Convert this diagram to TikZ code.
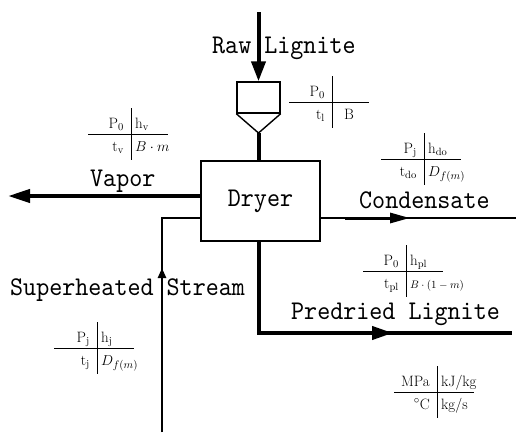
\documentclass[tikz,border=0pt]{standalone}
\usepackage{fontspec}
\newfontfamily\flowfont[FakeStretch=0.92]{lmmono10-regular.otf}
\usetikzlibrary{arrows.meta,calc}

\begin{document}
\begin{tikzpicture}[x=1pt,y=-1pt,
  flow/.style={draw=black,line width=4pt},
  pipe/.style={draw=black,line width=2.4pt},
  line/.style={draw=black,line width=1.4pt},
  cross/.style={draw=black,line width=1pt},
  label/.style={font=\flowfont\fontsize{27}{30}\selectfont,inner sep=0pt,anchor=base west},
  unitbox/.style={line,font=\flowfont\fontsize{27}{30}\selectfont,inner sep=0pt},
  entry/.style={font=\fontsize{15}{17}\selectfont,inner sep=0pt},
]
\useasboundingbox (0,0) rectangle (516,432);
% hopper and dryer
\node[unitbox,minimum width=43pt,minimum height=31pt] (hopper) at (258.5,97.5) {};
\coordinate (tip) at (258.5,133);
\draw[line] (hopper.south west) -- (tip) -- (hopper.south east);
\node[unitbox,minimum width=119pt,minimum height=80pt] (dryer) at (260.5,201) {Dryer};
\draw[flow] (tip) -- (tip |- dryer.north);
% raw lignite in
\coordinate (rawin) at (258.5,12);
\draw[flow,-{Triangle[length=20pt,width=14pt]}] (rawin) -- (hopper.north);
\node[label] (rawlab) at (212,53) {Raw Lignite};
% vapor out
\coordinate (vapout) at (8,196);
\draw[flow,-{Triangle[length=22pt,width=13pt]}] (dryer.west |- vapout) -- (vapout);
\node[label] (vaplab) at (90,186) {Vapor};
% superheated stream in
\coordinate (steamin) at (162,432);
\coordinate (steamturn) at (162,218);
\coordinate (steamhead) at (162,268);
\draw[pipe] (steamin) -- (steamturn) -- (dryer.west |- steamturn);
\draw[pipe,-{Triangle[length=10pt,width=8pt]}] (steamin) -- (steamhead);
\node[label] (steamlab) at (10,295) {Superheated Stream};
% condensate out
\coordinate (condout) at (516,218);
\coordinate (condtail) at (345,218);
\coordinate (condhead) at (410,218);
\draw[pipe,line width=2pt] (dryer.east |- condout) -- (condout);
\draw[pipe,line width=3pt,-{Triangle[length=20pt,width=10pt]}] (condtail) -- (condhead);
\node[label] (condlab) at (359,208) {Condensate};
% predried lignite out
\coordinate (pdturn) at (258.5,333);
\coordinate (pdhead) at (393,333);
\coordinate (pdout) at (512,333);
\draw[flow,line join=miter] (tip |- dryer.south) -- (pdturn) -- (pdout);
\draw[flow,-{Triangle[length=21pt,width=13pt]}] (pdturn) -- (pdhead);
\node[label] (pdlab) at (291,319) {Predried Lignite};
% state crosses
\foreach \cx/\cy/\tag/\ptl/\ptr/\pbl/\pbr in {
  332/102/hop/{$\mathrm{P_0}$}/{}/{$\mathrm{t_l}$}/{\hspace{8pt}$\mathrm{B}$},
  131/134/vap/{$\mathrm{P_0}$}/{$\mathrm{h_v}$}/{$\mathrm{t_v}$}/{$B\cdot m$},
  424/159/con/{$\mathrm{P_j}$}/{$\mathrm{h_{do}}$}/{$\mathrm{t_{do}}$}/{$D_{f(m)}$},
  406/271/pre/{$\mathrm{P_0}$}/{$\mathrm{h_{pl}}$}/{$\mathrm{t_{pl}}$}/{\fontsize{11}{12}\selectfont$B\cdot(1-m)$},
  97/348/sup/{$\mathrm{P_j}$}/{$\mathrm{h_j}$}/{$\mathrm{t_j}$}/{$D_{f(m)}$},
  437/392/uni/{MPa}/{kJ/kg}/{$^\circ$C}/{kg/s}}{
  \draw[cross] (\cx-43,\cy) -- (\cx+37,\cy);
  \draw[cross] (\cx,\cy-26) -- (\cx,\cy+26);
  \node[entry,anchor=base east] (\tag-tl) at (\cx-7,\cy-6) {\ptl};
  \node[entry,anchor=base west] (\tag-tr) at (\cx+4,\cy-6) {\ptr};
  \node[entry,anchor=base east] (\tag-bl) at (\cx-7,\cy+17) {\pbl};
  \node[entry,anchor=base west] (\tag-br) at (\cx+4,\cy+17) {\pbr};
}
\end{tikzpicture}
\end{document}
